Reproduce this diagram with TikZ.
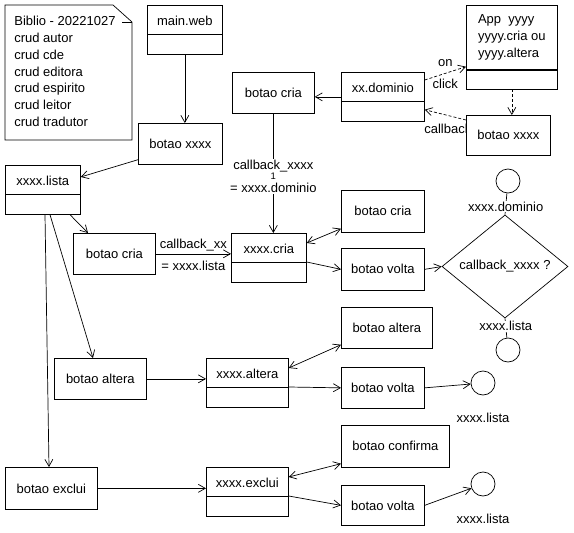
\documentclass[tikz,border=0pt]{standalone}
\usepackage{fontspec}
\setmainfont{Liberation Sans}
\usetikzlibrary{arrows.meta,shapes.geometric}
\tikzset{>/.tip={Straight Barb[length=7pt,width=8pt]},
  caixa/.style={draw, fill=white, anchor=north west, inner sep=0pt},
  classe/.style={draw, fill=white, anchor=north west, inner sep=0pt, text height=20pt, text depth=29pt,
    path picture={\draw ([yshift=-29pt]path picture bounding box.north west) -- ([yshift=-29pt]path picture bounding box.north east);}},
  fim/.style={circle, draw, fill=white, minimum size=24pt, inner sep=0pt},
  seta/.style={->, line width=0.7pt},
  tracejada/.style={->, line width=0.7pt, dash pattern=on 3pt off 2pt}}

\begin{document}
\begin{tikzpicture}[x=1pt, y=-1pt, line width=0.7pt, font=\fontsize{13}{16.8}\selectfont]
\path[use as bounding box, fill=white] (0,0) rectangle (574,533);
% nota
\draw (5,5) -- (113,5) -- (132,22) -- (132,140) -- (5,140) -- cycle;
\draw (122,22) -- (132,22);
\node[anchor=north west, align=left, inner sep=0pt] (nota) at (14,16)
  {Biblio - 20221027\\crud autor\\crud cde\\crud editora\\crud espirito\\crud leitor\\crud tradutor};
% topo
\node[classe, minimum width=75pt] (mainweb) at (147,5) {main.web};
\node[caixa, minimum width=84pt, minimum height=41pt] (bx) at (138,123) {botao xxxx};
\node[classe, minimum width=75pt] (lista) at (5,165) {xxxx.lista};
\node[caixa, minimum width=82pt, minimum height=41pt] (bcria0) at (232,72) {botao cria};
\node[classe, minimum width=83pt] (dom) at (341,72) {xx.dominio};
\node[caixa, minimum width=91pt, minimum height=64pt, align=left] (app) at (466,5)
  {App\ \ yyyy\\yyyy.cria ou\\yyyy.altera};
\node[caixa, minimum width=91pt, minimum height=19pt] (appb) at (app.south west) {};
\node[anchor=west, inner sep=0pt] (cb) at (424,129) {callback};
\node[caixa, minimum width=84pt, minimum height=40pt] (bx2) at (466,115) {botao xxxx};
% cria
\node[caixa, minimum width=82pt, minimum height=41pt] (bcria) at (73,233) {botao cria};
\node[classe, minimum width=75pt] (cria) at (231,233) {xxxx.cria};
\node[caixa, minimum width=83pt, minimum height=42pt] (bcria2) at (341,190) {botao cria};
\node[caixa, minimum width=83pt, minimum height=42pt] (bvolta) at (341,248) {botao volta};
\node[diamond, draw, fill=white, minimum width=126pt, minimum height=99pt, inner sep=0pt] (dec) at (505,266.5) {callback\_xxxx ?};
\node[fim] (fdom) at (508,181) {};
\node[fim] (flis) at (508,350) {};
% altera
\node[caixa, minimum width=91pt, minimum height=41pt] (balt2) at (341,307) {botao altera};
\node[caixa, minimum width=92pt, minimum height=41pt] (balt) at (54,358) {botao altera};
\node[classe, minimum width=82pt] (alt) at (206,358) {xxxx.altera};
\node[caixa, minimum width=83pt, minimum height=41pt] (bvolta2) at (341,367) {botao volta};
\node[fim, label={[label distance=14pt]below:xxxx.lista}] (flis2) at (483,383) {};
% exclui
\node[caixa, minimum width=108pt, minimum height=42pt] (bconf) at (341,425) {botao confirma};
\node[caixa, minimum width=92pt, minimum height=42pt] (bexc) at (5,467) {botao exclui};
\node[classe, minimum width=82pt] (exc) at (206,467) {xxxx.exclui};
\node[caixa, minimum width=83pt, minimum height=40pt] (bvolta3) at (341,485) {botao volta};
\node[fim, label={[label distance=14pt]below:xxxx.lista}] (flis3) at (483,484) {};

\draw[seta] (mainweb.south) -- (mainweb.south |- bx.north);
\draw[seta] ([yshift=5pt]bx.south west) -- ([yshift=-12pt]lista.north east);
\draw[seta] (dom.west) -- (dom.west -| bcria0.east);
\draw[tracejada] ([yshift=-8pt]dom.north east) -- node[above=3pt]{on} node[below=2pt]{click} ([yshift=3pt]app.south west);
\draw[tracejada] (appb.south) -- (appb.south |- bx2.north);
\draw[tracejada] ([yshift=-5pt]bx2.north west) -- ([yshift=12pt]dom.south east);
\draw[seta] (bcria0.south) -- node[pos=.525, fill=white, align=center, inner sep=1pt]
  {callback\_xxxx\\[-6pt]{\fontsize{9.5}{9.5}\selectfont 1}\\[-4pt]= xxxx.dominio} (bcria0.south |- cria.north);
\foreach \d/\b/\s in {65/bcria/15, 45/balt/39, 40/bexc/44}
  \draw[seta] ([xshift=\d pt]lista.south west) -- ([xshift=\s pt]\b.north west);
\draw[seta] (bcria.east) -- node[above, inner sep=2pt]{callback\_xx} node[below, inner sep=7pt]{= xxxx.lista} (bcria.east -| cria.west);
\foreach \b/\c in {balt/alt, bexc/exc}
  \draw[seta] (\b.east) -- (\b.east -| \c.west);
\foreach \c/\b in {cria/bcria2, alt/balt2, exc/bconf}
  \draw[<->] ([yshift=-10pt]\c.north east) -- ([yshift=4pt]\b.south west);
\foreach \c/\v in {cria/bvolta, alt/bvolta2, exc/bvolta3}
  \draw[seta] ([yshift=-29pt]\c.north east) -- (\v.west);
\draw[seta] (bvolta.east) -- (dec.west);
\foreach \v/\f in {bvolta2/flis2, bvolta3/flis3}
  \draw[seta] (\v.east) -- (\f);
\draw (dec.north) -- node[pos=.38, fill=white, inner sep=1pt]{xxxx.dominio} (fdom);
\draw (dec.south) -- node[pos=.41, fill=white, inner sep=1pt]{xxxx.lista} (flis);
\end{tikzpicture}
\end{document}
